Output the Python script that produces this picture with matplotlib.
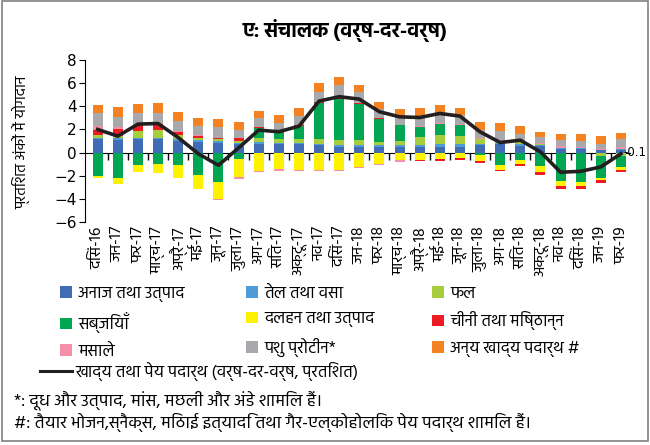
import numpy as np
import matplotlib
matplotlib.use('Agg')
from matplotlib import pyplot as plt
from matplotlib import font_manager as fm
from matplotlib.patches import Patch, Rectangle
from matplotlib.lines import Line2D

# महीने (x अक्ष)
mahine = ['दिसं-16', 'जन-17', 'फर-17', 'मार्च-17', 'अप्रै-17', 'मई-17', 'जून-17', 'जुला-17', 'अग-17',
          'सित-17', 'अक्टू-17', 'नव-17', 'दिसं-17', 'जन-18', 'फर-18', 'मार्च-18', 'अप्रै-18', 'मई-18',
          'जून-18', 'जुला-18', 'अग-18', 'सित-18', 'अक्टू-18', 'नव-18', 'दिसं-18', 'जन-19', 'फर-19']

# योगदान (प्रतिशत अंक), चित्र से पढ़े गए
anaj = [1.13, 1.07, 1.13, 1.13, 1.0, 0.92, 0.84, 0.72, 0.72, 0.72, 0.72, 0.69, 0.49, 0.5,
        0.49, 0.49, 0.49, 0.49, 0.49, 0.64, 0.7, 0.6, 0.55, 0.29, 0.29, 0.2, 0.2]
tel = [0.13, 0.15, 0.17, 0.17, 0.2, 0.2, 0.17, 0.15, 0.17, 0.12, 0.12, 0.09, 0.2, 0.17,
       0.14, 0.14, 0.17, 0.23, 0.23, 0.14, 0.15, 0.17, 0.12, 0.12, 0.09, 0.03, 0.12]
phal = [0.26, 0.2, 0.55, 0.64, 0.29, 0.17, 0.17, 0.15, 0.35, 0.29, 0.29, 0.38, 0.43, 0.38,
        0.29, 0.38, 0.69, 0.8, 0.75, 0.38, 0.05, 0.17, 0.03, 0.02, 0.02, -0.29, -0.29]
sabji = [-2.02, -2.17, -1.1, -0.95, -1.1, -1.94, -2.5, -0.52, 0.9, 0.58, 1.16, 3.1, 3.47, 3.12,
         2.0, 1.33, 0.87, 0.92, 0.92, -0.25, -1.1, -0.6, -1.18, -2.49, -2.57, -1.88, -1.0]
dalhan = [-0.2, -0.52, -0.58, -0.81, -1.07, -1.21, -1.5, -1.6, -1.6, -1.4, -1.47, -1.47, -1.47, -1.24,
          -0.95, -0.66, -0.6, -0.55, -0.49, -0.45, -0.38, -0.43, -0.52, -0.43, -0.35, -0.23, -0.23]
chini = [0.46, 0.6, 0.52, 0.52, 0.29, 0.15, 0.1, 0.23, 0.1, 0.08, 0.08, 0.14, 0.1, 0.08,
         0.03, 0.03, -0.14, -0.14, -0.17, -0.2, -0.12, -0.14, -0.2, -0.23, -0.23, -0.2, -0.17]
masale = [0.3, 0.2, 0.08, 0.06, 0.05, 0.1, -0.14, -0.17, -0.1, -0.15, -0.1, -0.1, -0.1, -0.1,
          -0.14, -0.17, 0.08, 0.1, 0.1, 0.14, 0.14, 0.12, 0.17, 0.14, 0.06, 0.06, 0.12]
protein = [1.1, 0.85, 0.98, 0.92, 0.9, 0.72, 0.9, 0.72, 0.72, 0.78, 0.78, 0.8, 1.16, 0.95,
           0.8, 0.8, 0.87, 0.87, 0.8, 0.64, 0.8, 0.58, 0.46, 0.52, 0.55, 0.49, 0.69]
anya = [0.75, 0.85, 0.75, 0.81, 0.75, 0.72, 0.7, 0.66, 0.66, 0.72, 0.66, 0.78, 0.66, 0.66,
        0.66, 0.6, 0.66, 0.72, 0.6, 0.66, 0.7, 0.64, 0.49, 0.49, 0.58, 0.61, 0.58]
# खाद्य तथा पेय पदार्थ (वर्ष-दर-वर्ष)
khadya = [2.0, 1.42, 2.46, 2.51, 1.3, -0.1, -1.1, 0.4, 1.94, 1.8, 2.28, 4.45, 4.83, 4.62,
          3.53, 3.09, 3.03, 3.38, 3.15, 1.79, 0.87, 1.07, 0.06, -1.7, -1.62, -1.24, -0.1]

shrenee = ['अनाज तथा उत्पाद', 'तेल तथा वसा', 'फल', 'सब्जियाँ', 'दलहन तथा उत्पाद',
           'चीनी तथा मिष्ठान्न', 'मसाले', 'पशु प्रोटीन*', 'अन्य खाद्य पदार्थ #']
rang = ['#3f6cb4', '#4f9bd5', '#a6cd3b', '#00a651', '#fff200', '#ed1c24', '#f58ea6', '#a7a9ac', '#f58220']

# देवनागरी फ़ॉन्ट ढूँढना (बोल्ड वाला हो तो बेहतर)
fonts = fm.fontManager.ttflist
deva = None
for n in ['Hind', 'Mukta', 'Noto Sans Devanagari', 'Poppins', 'Anek Devanagari', 'Akshar']:
    if any(f.name == n and f.weight in (600, 700, 'bold', 'semibold') for f in fonts):
        deva = n
        break
if deva is None:
    deva = 'Akshar'
parivar = [deva, 'DejaVu Sans']
plt.rcParams['font.family'] = parivar

fig = plt.figure(figsize=(6.5, 4.45), dpi=100)
ax = fig.add_axes([85 / 650, 1 - 222 / 445, 545 / 650, 162 / 445])

x = np.arange(len(mahine))
data = [anaj, tel, phal, sabji, dalhan, chini, masale, protein, anya]
pos_bottom = np.zeros(len(x))
neg_bottom = np.zeros(len(x))
for vals, c, lab in zip(data, rang, shrenee):
    v = np.array(vals)
    b = np.where(v >= 0, pos_bottom, neg_bottom)  # धनात्मक ऊपर, ऋणात्मक नीचे
    ax.bar(x, v, 0.5, bottom=b, color=c, label=lab, zorder=2)
    pos_bottom += np.where(v >= 0, v, 0)
    neg_bottom += np.where(v < 0, v, 0)

ax.plot(x, khadya, color='#231f20', lw=2.6, zorder=3)
ax.text(x[-1] + 0.12, khadya[-1] + 0.1, '-0.1', fontsize=8.5, va='center', ha='left',
        family='DejaVu Sans', clip_on=False)

ax.set_xlim(-0.63, 26.45)
ax.set_ylim(-6, 8)
ax.set_yticks(np.arange(-6, 9, 2))
ax.tick_params(axis='y', direction='out', length=4, labelsize=11, pad=2)
for t in ax.get_yticklabels():
    t.set_family('DejaVu Sans')
for s in ['top', 'right', 'bottom']:
    ax.spines[s].set_visible(False)

# महीनों के नाम नीचे
ax.set_xticks(x)
ax.set_xticklabels(mahine, rotation=90, fontsize=11.5)
ax.tick_params(axis='x', length=0, pad=3)

# शून्य रेखा और उसके टिक
shunya = ax.secondary_xaxis(0, transform=ax.transData)
shunya.set_xticks(np.arange(0.5, 26, 1))
shunya.set_xticklabels([])
shunya.tick_params(direction='out', length=5, width=1)

fig.text(345 / 650, 1 - 31 / 445, 'ए: संचालक (वर्ष-दर-वर्ष)', fontsize=14.5, fontweight='bold',
         ha='center', va='center')
fig.text(21 / 650, 1 - 142 / 445, 'प्रतिशत अंकों में योगदान', rotation=90, fontsize=11,
         ha='center', va='center')

# लेजेंड: तीन कॉलम अलग-अलग
handles = [Patch(facecolor=c) for c in rang]
for col, xl in enumerate([60, 246, 432]):
    idx = [col, col + 3, col + 6]
    fig.legend([handles[i] for i in idx], [shrenee[i] for i in idx], loc='upper left',
               bbox_to_anchor=(xl / 650, 1 - 286 / 445), frameon=False, fontsize=12,
               handlelength=0.7, handleheight=0.7, handletextpad=0.4, borderpad=0,
               borderaxespad=0, labelspacing=0.62)
fig.legend([Line2D([0], [0], color='#231f20', lw=2.2)], ['खाद्य तथा पेय पदार्थ (वर्ष-दर-वर्ष, प्रतिशत)'],
           loc='upper left', bbox_to_anchor=(40 / 650, 1 - 362 / 445), frameon=False, fontsize=12,
           handlelength=1.9, handletextpad=0.2, borderpad=0, borderaxespad=0)

fig.text(14 / 650, 1 - 400 / 445, '*: दूध और उत्पाद, मांस, मछली और अंडे शामिल हैं।', fontsize=12.5,
         ha='left', va='center')
fig.text(14 / 650, 1 - 422 / 445, '#: तैयार भोजन,स्नैक्स, मिठाई इत्यादि तथा गैर-एल्कोहोलिक पेय पदार्थ शामिल हैं।',
         fontsize=12.5, ha='left', va='center')

fig.patches.append(Rectangle((0.003, 0.01), 0.994, 0.987, transform=fig.transFigure,
                             fill=False, edgecolor='#808080', lw=1.2))

fig.savefig('out.png', dpi=100)
